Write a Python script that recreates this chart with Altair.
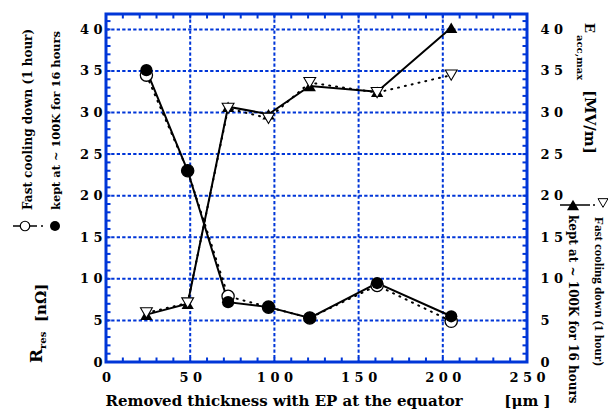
import altair as alt
import pandas as pd

# ---------------- data ----------------
thickness = [24, 48.5, 72.5, 96.5, 121, 161, 205]
rres_fast = [34.5, 23.0, 7.9, 6.6, 5.3, 9.2, 4.9]      # open circles, dotted
rres_kept = [35.1, 23.0, 7.2, 6.6, 5.3, 9.5, 5.5]      # filled circles, solid
eacc_fast = [5.9, 7.1, 30.5, 29.3, 33.6, 32.4, 34.5]   # open down-triangles, dotted
eacc_kept = [5.7, 7.0, 30.7, 29.8, 33.2, 32.5, 40.2]   # filled up-triangles, solid

x_labels = [0, 50, 100, 150, 200, 250]
y_labels = [0, 5, 10, 15, 20, 25, 30, 35, 40]
x_grid = [50, 100, 150, 200]
y_grid = [5, 10, 15, 20, 25, 30, 35, 40]
x_minor = list(range(0, 251, 10))
y_minor = list(range(0, 42))

# ---------------- style ----------------
W, H = 421, 348
BLUE = "#0036d8"
FONT = "DejaVu Serif"
SERIF = "Liberation Serif"
TICK = 4.5
LBL = r"replace(datum.label, regexp('(\\d)(?=\\d)', 'g'), '$1 ')"
NB = "\u00a0"

xs = alt.Scale(domain=[0, 250], nice=False, zero=False)
ys = alt.Scale(domain=[0, 41.85], nice=False, zero=False)

common_lbl = dict(grid=False, ticks=False, domain=False, labelExpr=LBL,
                  labelFont=FONT, labelFontWeight="bold", labelFontSize=13,
                  labelColor="black")

x_axis = alt.Axis(values=x_labels, labelPadding=9, labelFlush=False,
                  title="Removed thickness with EP at the equator" + NB * 8 + "[μm ]",
                  titleFont=FONT, titleFontWeight="bold", titleFontSize=15,
                  titleColor="black", titleX=-1, titleY=43, titleAlign="left",
                  titleBaseline="alphabetic", **common_lbl)
yl_axis = alt.Axis(values=y_labels, labelPadding=4, title=None, **common_lbl)
yr_axis = alt.Axis(values=y_labels, orient="right", labelPadding=13, title=None, **common_lbl)

X = alt.X("x:Q", scale=xs, axis=x_axis)
YL = alt.Y("y:Q", scale=ys, axis=yl_axis)
YR = alt.Y("y:Q", scale=ys, axis=yr_axis)

df_rf = pd.DataFrame({"x": thickness, "y": rres_fast})
df_rk = pd.DataFrame({"x": thickness, "y": rres_kept})
df_ef = pd.DataFrame({"x": thickness, "y": eacc_fast})
df_ek = pd.DataFrame({"x": thickness, "y": eacc_kept})


def txt(text, x, y, size, angle, font=FONT):
    return alt.Chart(pd.DataFrame({"t": [text]})).mark_text(
        font=font, fontWeight="bold", fontSize=size, angle=angle,
        align="left", baseline="alphabetic", color="black"
    ).encode(text="t:N", x=alt.value(x), y=alt.value(y))


one = pd.DataFrame({"k": [0]})

grid_v = alt.Chart(pd.DataFrame({"x": x_grid})).mark_rule(
    color=BLUE, strokeWidth=2, strokeDash=[3.3, 2.2]).encode(x=X)
grid_h = alt.Chart(pd.DataFrame({"y": y_grid})).mark_rule(
    color=BLUE, strokeWidth=2, strokeDash=[3.3, 2.2]).encode(y=YL)
tick_b = alt.Chart(pd.DataFrame({"x": x_minor})).mark_rule(color=BLUE, strokeWidth=2).encode(
    x=X, y=alt.value(H), y2=alt.value(H - TICK))
tick_t = alt.Chart(pd.DataFrame({"x": x_minor})).mark_rule(color=BLUE, strokeWidth=2).encode(
    x=X, y=alt.value(0), y2=alt.value(TICK))
tick_l = alt.Chart(pd.DataFrame({"y": y_minor})).mark_rule(color=BLUE, strokeWidth=2).encode(
    y=YL, x=alt.value(0), x2=alt.value(TICK))
tick_r = alt.Chart(pd.DataFrame({"y": y_minor})).mark_rule(color=BLUE, strokeWidth=2).encode(
    y=YL, x=alt.value(W), x2=alt.value(W - TICK))

line_rf = alt.Chart(df_rf).mark_line(color="black", strokeWidth=2, strokeDash=[1, 6],
                                     strokeCap="round").encode(x=X, y=YL)
line_rk = alt.Chart(df_rk).mark_line(color="black", strokeWidth=2).encode(x=X, y=YL)
pt_rf = alt.Chart(df_rf).mark_circle(size=150, fill="white", stroke="black",
                                     strokeWidth=1.3, opacity=1).encode(x=X, y=YL)
pt_rk = alt.Chart(df_rk).mark_circle(size=150, color="black", opacity=1).encode(x=X, y=YL)

# left legend + title
leg_l = [
    txt("Fast cooling down (1 hour)", -74, 196, 12, 270),
    txt("kept at ~ 100K for 16 hours", -46, 196, 11.4, 270),
    txt("R", -64, 349, 17, 270),
    txt("res", -60, 335, 10, 270),
    txt("[nΩ]", -60, 308, 15, 270),
    alt.Chart(one).mark_rule(color="black", strokeWidth=1.5).encode(
        x=alt.value(-93), x2=alt.value(-69), y=alt.value(212)),
    alt.Chart(one).mark_circle(size=4, color="black", opacity=1).encode(
        x=alt.value(-64), y=alt.value(212)),
    alt.Chart(one).mark_circle(size=90, fill="white", stroke="black", strokeWidth=1.2,
                               opacity=1).encode(x=alt.value(-81), y=alt.value(212)),
    alt.Chart(one).mark_circle(size=100, color="black", opacity=1).encode(
        x=alt.value(-51), y=alt.value(212)),
]

# right legend + title
leg_r = [
    txt("E", 479, 9, 13, 90),
    txt("acc,max", 471, 21, 10, 90),
    txt("[MV/m]", 479, 76, 15, 90),
    txt("Fast cooling down (1 hour)", 489, 203, 13, 90, SERIF),
    txt("kept at ~ 100K for 16 hours", 463, 201, 12, 90),
    alt.Chart(one).mark_rule(color="black", strokeWidth=1.5).encode(
        x=alt.value(454), x2=alt.value(484), y=alt.value(191)),
    alt.Chart(one).mark_circle(size=4, color="black", opacity=1).encode(
        x=alt.value(488), y=alt.value(191)),
    alt.Chart(one).mark_circle(size=4, color="black", opacity=1).encode(
        x=alt.value(507), y=alt.value(191)),
    alt.Chart(one).mark_point(shape="triangle-up", size=144, filled=True, color="black",
                              opacity=1).encode(x=alt.value(467), y=alt.value(191)),
    alt.Chart(one).mark_point(shape="triangle-down", size=100, filled=True, fill="white",
                              stroke="black", strokeWidth=1, opacity=1).encode(
        x=alt.value(497), y=alt.value(189)),
]

left = alt.layer(grid_v, grid_h, tick_b, tick_t, tick_l, tick_r,
                 line_rf, line_rk, pt_rf, pt_rk, *leg_l, *leg_r)

line_ef = alt.Chart(df_ef).mark_line(color="black", strokeWidth=2, strokeDash=[1, 6],
                                     strokeCap="round").encode(x=X, y=YR)
line_ek = alt.Chart(df_ek).mark_line(color="black", strokeWidth=2).encode(x=X, y=YR)
pt_ek = alt.Chart(df_ek).mark_point(shape="triangle-up", size=150, filled=True,
                                    color="black", opacity=1).encode(x=X, y=YR)
pt_ef = alt.Chart(df_ef).mark_point(shape="triangle-down", size=140, filled=True,
                                    fill="white", stroke="black", strokeWidth=1.1,
                                    opacity=1).encode(x=X, y=YR)
right = alt.layer(line_ef, line_ek, pt_ek, pt_ef)

chart = alt.layer(left, right).resolve_scale(y="independent").properties(
    width=W, height=H,
    autosize=alt.AutoSizeParams(type="none"),
    padding={"left": 98, "top": 6, "right": 81, "bottom": 49},
    background="white",
).configure_view(stroke=BLUE, strokeWidth=3)

chart.save("out.html", embed_options={"renderer": "svg", "actions": False})
